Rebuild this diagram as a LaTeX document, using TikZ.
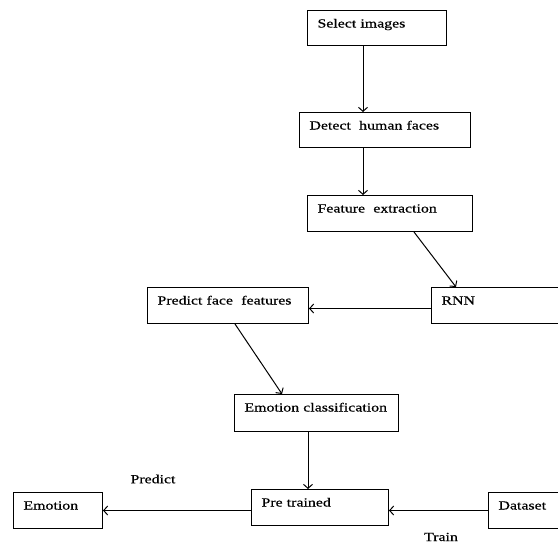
\documentclass[tikz,border=0pt]{standalone}
\usepackage{fontspec}
\setmainfont{Liberation Serif}[FakeStretch=1.28,FakeBold=0.6]
\usetikzlibrary{arrows.meta}
\begin{document}
\begin{tikzpicture}[x=1pt,y=-1pt,
  font=\fontsize{12.4pt}{14pt}\selectfont,
  flowbox/.style={draw, line width=1pt, inner xsep=10pt, inner ysep=0pt,
    align=left, anchor=north west, text height=17pt},
  arr/.style={line width=1pt, -{Straight Barb[length=4pt,width=9pt,line width=1pt]}},
  lbl/.style={inner sep=0pt}]
\useasboundingbox (0,0) rectangle (558,544);
\clip (0,0) rectangle (558,544);
\node[flowbox, text width=119pt, text depth=18pt] (sel) at (307,10) {\mbox{Select images}};
\node[flowbox, text width=151pt, text depth=18pt] (det) at (299,112) {\mbox{Detect\ \ human faces}};
\node[flowbox, text width=145pt, text depth=19pt] (feat) at (307,195) {\mbox{Feature\ \ extraction}};
\node[flowbox, text width=110pt, text depth=19pt] (rnn) at (431,287) {\mbox{RNN}};
\node[flowbox, text width=141pt, text depth=19pt] (pff) at (147,287) {\mbox{Predict\ face\ \ features}};
\node[flowbox, text width=144pt, text depth=20pt] (ec) at (234,394) {\mbox{Emotion classification}};
\node[flowbox, text width=117pt, text depth=19pt] (pt) at (251,489) {\mbox{Pre trained}};
\node[flowbox, text width=69pt, text depth=19pt] (emo) at (13,492) {\mbox{Emotion}};
\node[flowbox, text width=54pt, text depth=19pt] (ds) at (488,492) {\mbox{Dataset}};
\node[lbl] (lp) at (153,479) {Predict};
\node[lbl] (lt) at (441,537) {Train};
\coordinate (rnnl) at ([yshift=-3pt]rnn.west);
\coordinate (ptl) at ([yshift=-3pt]pt.west);
\draw[arr] ([xshift=56pt]sel.south west) -- ([xshift=64pt]det.north west);
\draw[arr] ([xshift=64pt]det.south west) -- ([xshift=56pt]feat.north west);
\draw[arr] ([xshift=107pt]feat.south west) -- ([xshift=25pt]rnn.north west);
\draw[arr] (rnnl) -- (rnnl -| pff.east);
\draw[arr] ([xshift=88pt]pff.south west) -- ([xshift=48pt]ec.north west);
\draw[arr] ([xshift=74pt]ec.south west) -- ([xshift=57pt]pt.north west);
\draw[arr] (ptl) -- (ptl -| emo.east);
\draw[arr] (ds.west) -- (ds.west -| pt.east);
\end{tikzpicture}
\end{document}
